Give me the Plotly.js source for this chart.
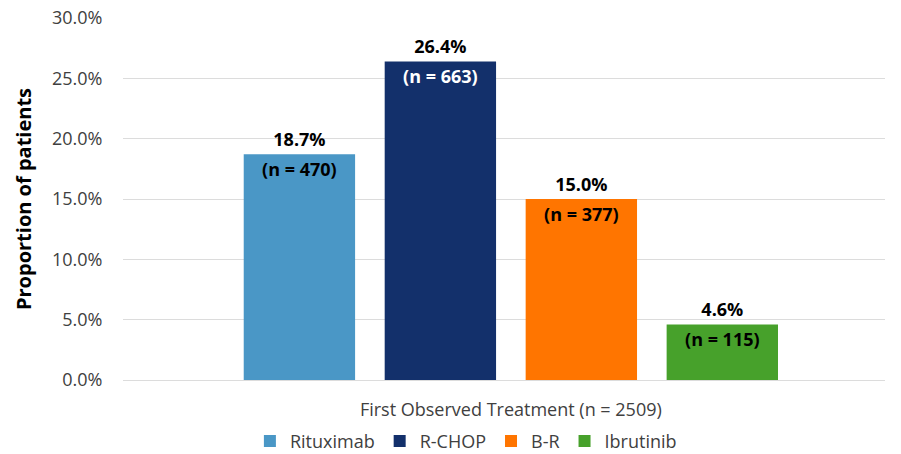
<!DOCTYPE html>
<html>
<head>
<meta charset="utf-8">
<script src="https://cdn.plot.ly/plotly-3.0.1.min.js"></script>
<style>html,body{margin:0;padding:0;background:#fff;}#chart{width:901px;height:454px;}</style>
</head>
<body>
<div id="chart"></div>
<script>
const category = ["First Observed Treatment (n = 2509)"];
const treatments = ["Rituximab", "R-CHOP", "B-R", "Ibrutinib"];
const percents = [18.7, 26.4, 15.0, 4.6];
const counts = [470, 663, 377, 115];
const colors = ["#4a97c6", "#13306b", "#ff7500", "#47a12b"];
const countTextColors = ["#000000", "#ffffff", "#000000", "#000000"];

const FONT = "Open Sans, Noto Sans, sans-serif";
const traces = [];
treatments.forEach((name, i) => {
  traces.push({
    type: "bar", name: name, x: category, y: [percents[i] / 100],
    marker: {color: colors[i]},
    text: [percents[i].toFixed(1) + "%"], textposition: "outside", cliponaxis: false,
    textfont: {family: FONT, size: 18, color: "#000", weight: "bold"},
    hoverinfo: "skip", xaxis: "x", yaxis: "y"
  });
});
treatments.forEach((name, i) => {
  traces.push({
    type: "bar", name: name, x: category, y: [percents[i] / 100], showlegend: false,
    marker: {color: "rgba(0,0,0,0)"},
    text: ["(n = " + counts[i] + ")"], textposition: "inside", insidetextanchor: "end",
    textangle: 0, constraintext: "none",
    textfont: {family: FONT, size: 18, color: countTextColors[i], weight: "bold"},
    hoverinfo: "skip", xaxis: "x2", yaxis: "y"
  });
});

const xr = [-0.509, 0.491];
const layout = {
  width: 901, height: 454,
  margin: {l: 123, r: 16, t: 18, b: 74},
  paper_bgcolor: "#fff", plot_bgcolor: "#fff",
  font: {family: FONT, color: "#404040"},
  barmode: "group", bargap: 0.26, bargroupgap: 0.21,
  showlegend: true,
  legend: {orientation: "h", x: 0.45, xanchor: "center", yref: "container", y: 0.028, yanchor: "middle",
           font: {family: FONT, size: 18, color: "#404040"}, traceorder: "normal",
           itemwidth: 30, tracegroupgap: 0},
  xaxis: {type: "category", range: xr, showgrid: false, zeroline: false, showline: false,
          automargin: false,
          ticks: "outside", ticklen: 13, tickcolor: "rgba(0,0,0,0)",
          tickfont: {family: FONT, size: 18, color: "#404040"}},
  xaxis2: {type: "category", range: xr, overlaying: "x", visible: false},
  yaxis: {range: [0, 0.3], dtick: 0.05, tickformat: ".1%", showgrid: true, gridcolor: "#dcdcdc",
          gridwidth: 1, zeroline: true, zerolinecolor: "#dcdcdc", showline: false,
          automargin: false,
          ticks: "outside", ticklen: 16, tickcolor: "rgba(0,0,0,0)",
          tickfont: {family: FONT, size: 18, color: "#404040"},
          title: {text: "Proportion of patients", standoff: 14,
                  font: {family: FONT, size: 20, color: "#000", weight: "bold"}}}
};
Plotly.newPlot("chart", traces, layout, {displayModeBar: false, staticPlot: true});
</script>
</body>
</html>
